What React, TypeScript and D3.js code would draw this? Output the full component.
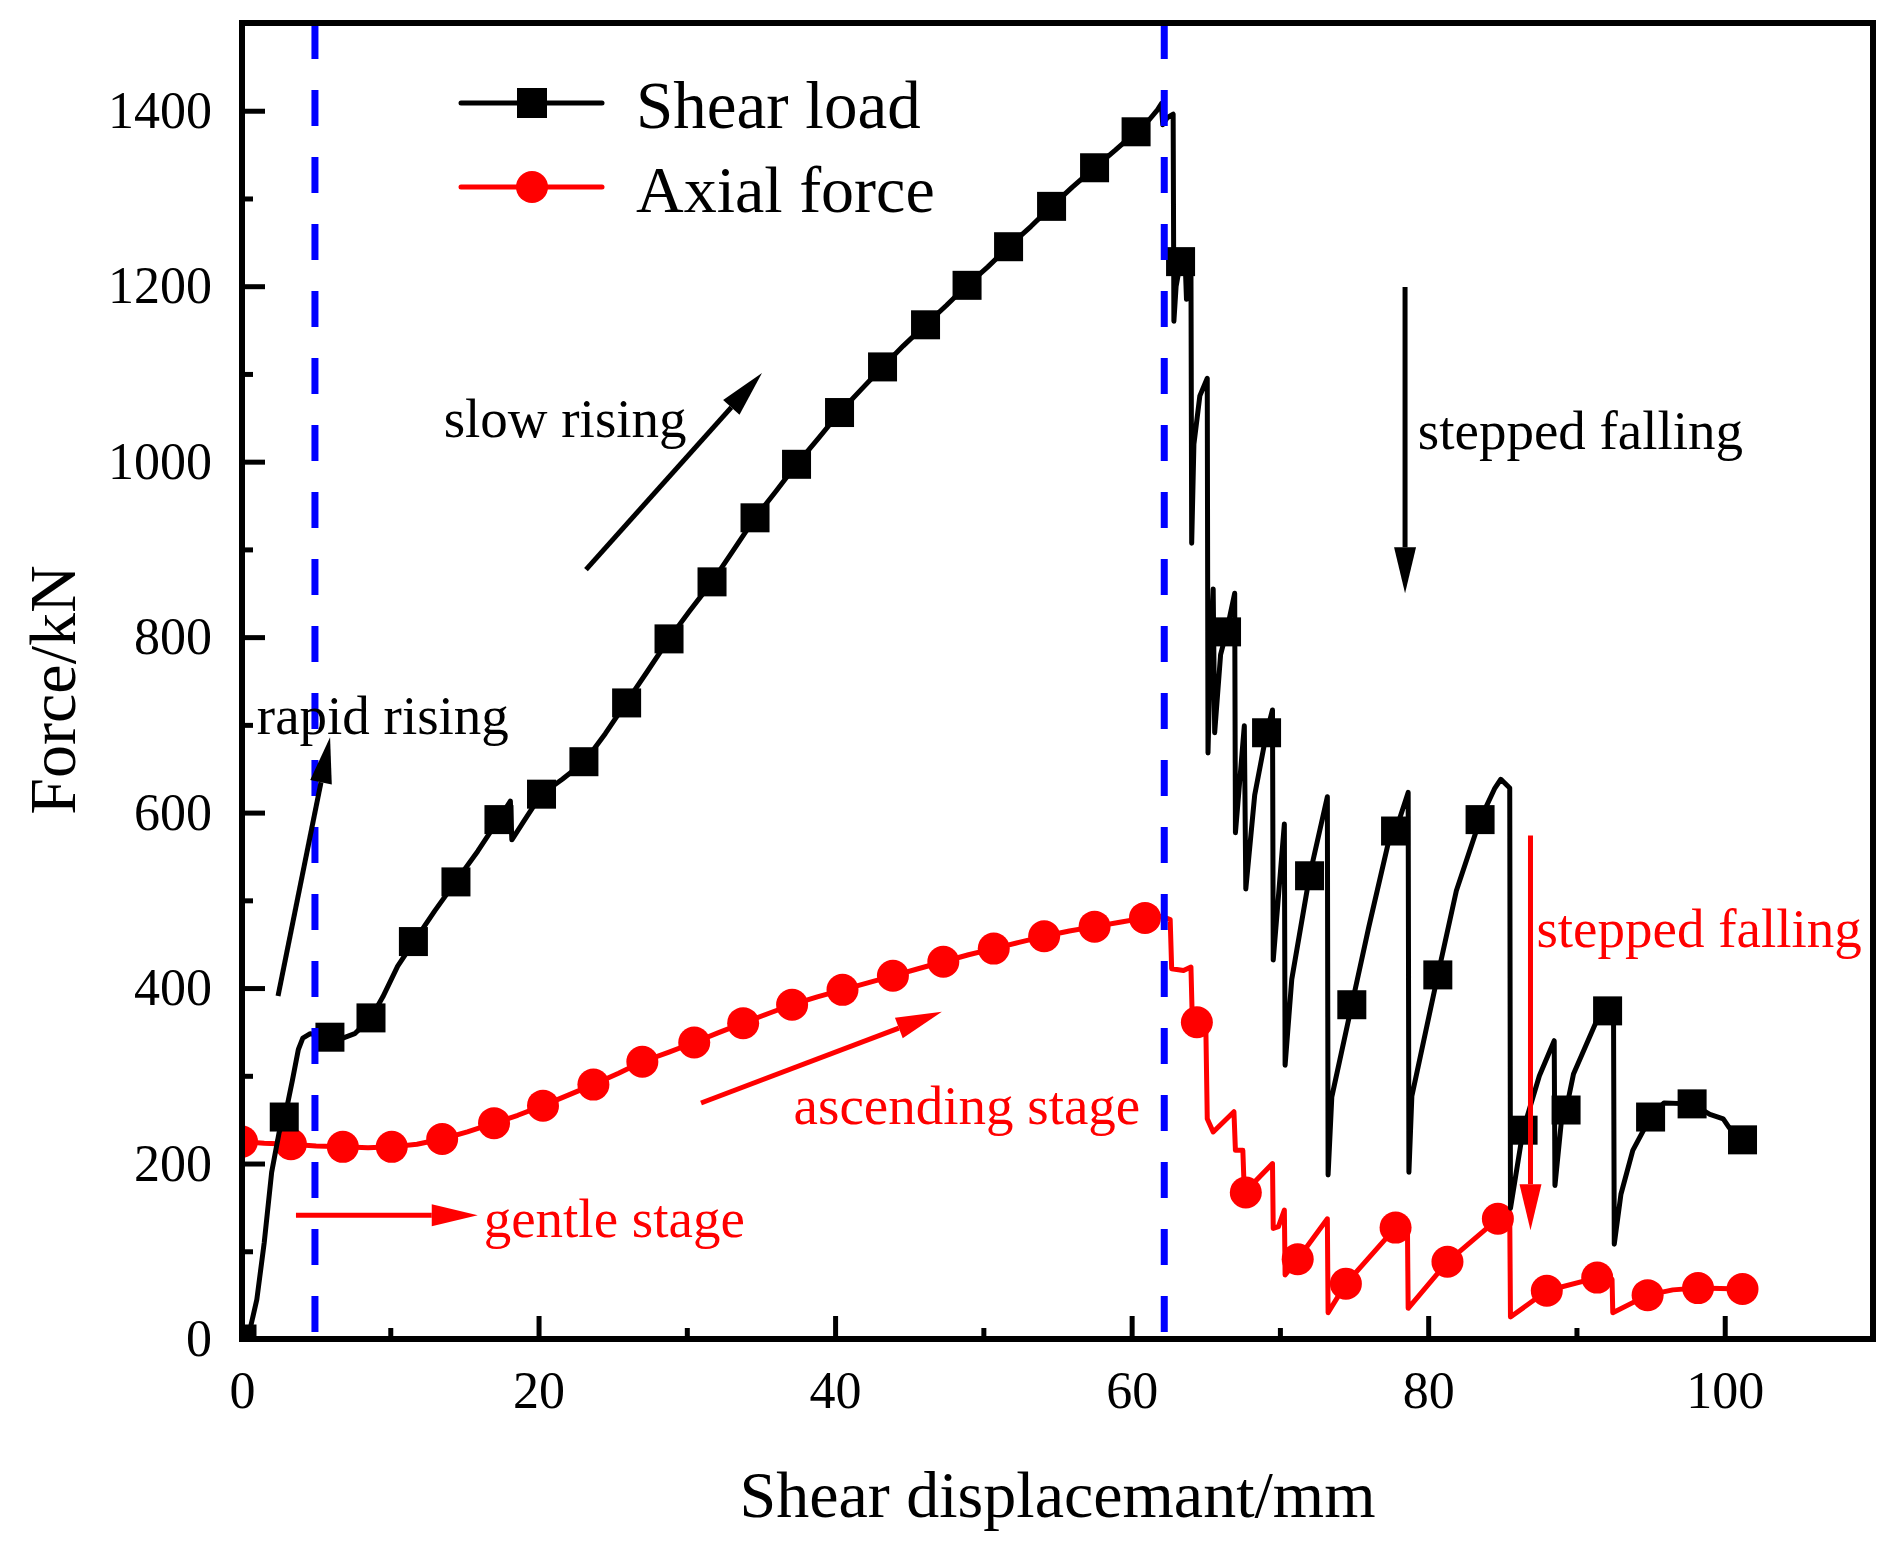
import { useRef, useEffect } from 'react';
import * as d3 from 'd3';

type Pt = [number, number];

const FONT = '"Liberation Serif", "Times New Roman", serif';

// shear load curve (displacement mm, force kN)
const shearLine: Pt[] = [
  [0, 0], [0.5, 8], [1, 45], [1.5, 110], [2, 190], [2.5, 235], [3, 262], [3.4, 295], [3.8, 330],
  [4.1, 343], [4.6, 348], [5.3, 345], [5.9, 344], [6.8, 343], [7.6, 348], [8.7, 366], [9.5, 390],
  [10.5, 425], [11.6, 453], [13, 488], [14.4, 521], [15.9, 556], [17.3, 592], [18.1, 613], [18.2, 569],
  [19, 590], [20.2, 621], [21.6, 638], [23.1, 658], [24.5, 690], [25.9, 725], [27.3, 760], [28.8, 798],
  [30.2, 830], [31.7, 863], [33.1, 898], [34.6, 936], [36, 966], [37.4, 997], [38.9, 1027], [40.3, 1056],
  [41.8, 1083], [43.2, 1108], [44.6, 1132], [46.1, 1156], [47.5, 1178], [48.9, 1201], [50.3, 1222],
  [51.7, 1245], [53.2, 1268], [54.6, 1291], [56, 1313], [57.5, 1335], [58.9, 1355], [60.3, 1376],
  [61.2, 1390], [61.7, 1400], [62.0, 1408], [62.1, 1384], [62.4, 1392], [62.8, 1396], [62.85, 1160],
  [63.0, 1200], [63.3, 1228], [63.6, 1232], [63.7, 1185], [63.9, 1232], [64.0, 1228], [64.05, 907],
  [64.2, 1020], [64.6, 1075], [65.1, 1095], [65.15, 668], [65.3, 770], [65.5, 855], [65.6, 691],
  [66, 780], [66.4, 806], [66.95, 850], [67.0, 577], [67.6, 699], [67.7, 513], [68.3, 620], [69.1, 691],
  [69.5, 717], [69.55, 432], [70.3, 587], [70.35, 312], [70.8, 410], [72.0, 528], [73.2, 618],
  [73.25, 187], [73.5, 276], [74.85, 381], [76, 470], [77.4, 572], [77.8, 579], [78.65, 623],
  [78.7, 190], [78.9, 277], [80.65, 415], [81.9, 511], [83.5, 592], [84.5, 628], [84.9, 638],
  [85.5, 628], [85.55, 149], [86.4, 238], [87.5, 300], [88.5, 340], [88.55, 175], [89.0, 251],
  [89.3, 261], [89.8, 302], [91.55, 370], [92.1, 374], [92.5, 373], [92.55, 108], [93.0, 165],
  [93.8, 215], [95.0, 253], [95.9, 269], [97.8, 268], [99.0, 256], [99.9, 251], [100.3, 241],
  [101.2, 227],
];

const shearMarkers: Pt[] = [
  [0, 0], [2.85, 253], [5.93, 344], [8.7, 366], [11.56, 453], [14.43, 521], [17.33, 592], [20.2, 621],
  [23.06, 658], [25.94, 725], [28.8, 798], [31.7, 863], [34.6, 936], [37.4, 997], [40.3, 1056],
  [43.2, 1108], [46.1, 1156], [48.9, 1201], [51.7, 1245], [54.6, 1291], [57.5, 1335], [60.3, 1376],
  [63.3, 1228], [66.4, 806], [69.1, 691], [72.0, 528], [74.85, 381], [77.8, 579], [80.65, 415],
  [83.5, 592], [86.4, 238], [89.3, 261], [92.1, 374], [95.0, 253], [97.8, 268], [101.2, 227],
];

// axial force curve
const axialLine: Pt[] = [
  [0, 225], [1.5, 223], [3.3, 222], [5, 220], [6.8, 219], [8.5, 218], [10.1, 219], [11.8, 222],
  [13.5, 228], [15.2, 236], [17, 246], [18.6, 255], [20.3, 266], [22, 278], [23.7, 290], [25.4, 303],
  [27.0, 316], [28.8, 327], [30.5, 338], [32.1, 349], [33.8, 360], [35.5, 371], [37.1, 381],
  [38.8, 390], [40.5, 398], [42.2, 406], [43.9, 414], [45.6, 422], [47.3, 430], [49, 438], [50.7, 445],
  [52.4, 452], [54.1, 459], [55.8, 465], [57.5, 470], [59.2, 475], [60.9, 480], [62.0, 482],
  [62.6, 478], [62.7, 422], [63.5, 420], [64.0, 424], [64.1, 358], [65.0, 360], [65.1, 251],
  [65.5, 236], [66.9, 259], [67.0, 215], [67.5, 215], [67.6, 167], [69.5, 200], [69.55, 126],
  [69.9, 128], [70.3, 147], [70.35, 73], [71.2, 91], [73.2, 137], [73.25, 30], [74.45, 63],
  [77.8, 127], [78.6, 130], [78.65, 35], [81.3, 88], [84.7, 137], [85.5, 142], [85.55, 25],
  [88.0, 55], [91.4, 70], [92.4, 68], [92.45, 30], [94.8, 50], [96.5, 56], [98.2, 58], [101.2, 57],
];

const axialMarkers: Pt[] = [
  [0, 225], [3.3, 222], [6.8, 219], [10.1, 219], [13.5, 228], [17, 246], [20.3, 266], [23.7, 290],
  [27.0, 316], [30.5, 338], [33.8, 360], [37.1, 381], [40.5, 398], [43.9, 414], [47.3, 430],
  [50.7, 445], [54.1, 459], [57.5, 470], [60.9, 480], [64.4, 361], [67.7, 167], [71.2, 91],
  [74.45, 63], [77.8, 127], [81.3, 88], [84.7, 137], [88.0, 55], [91.4, 70], [94.8, 50], [98.2, 58],
  [101.2, 57],
];

const xMajor = [0, 20, 40, 60, 80, 100];
const xMinor = [10, 30, 50, 70, 90];
const yMajor = [0, 200, 400, 600, 800, 1000, 1200, 1400];
const yMinor = [100, 300, 500, 700, 900, 1100, 1300];

const stageLines = [4.92, 62.2];

// annotations: text position, arrow from -> to (data units)
const notes = [
  { text: 'slow rising', at: [13.6, 1028] as Pt, color: '#000', from: [23.2, 877] as Pt, to: [35.07, 1101] as Pt },
  { text: 'rapid rising', at: [1.0, 690] as Pt, color: '#000', from: [2.43, 391] as Pt, to: [5.94, 686] as Pt },
  { text: 'stepped falling', at: [79.3, 1014] as Pt, color: '#000', from: [78.44, 1199] as Pt, to: [78.44, 850] as Pt },
  { text: 'stepped falling', at: [87.3, 447] as Pt, color: '#ff0000', from: [86.9, 574] as Pt, to: [86.9, 124] as Pt },
  { text: 'ascending stage', at: [37.2, 245] as Pt, color: '#ff0000', from: [30.96, 269] as Pt, to: [47.2, 373] as Pt },
  { text: 'gentle stage', at: [16.3, 116] as Pt, color: '#ff0000', from: [3.64, 141] as Pt, to: [15.9, 141] as Pt },
];

const W = 1902;
const H = 1552;
const left = 242;
const right = 1873;
const top = 23;
const bottom = 1339;

function Arrow({ x1, y1, x2, y2, color }: { x1: number; y1: number; x2: number; y2: number; color: string }) {
  const len = Math.hypot(x2 - x1, y2 - y1);
  const ux = (x2 - x1) / len;
  const uy = (y2 - y1) / len;
  const hl = 46;
  const hw = 11;
  const bx = x2 - ux * hl;
  const by = y2 - uy * hl;
  const pts = [
    [x2, y2],
    [bx - uy * hw, by + ux * hw],
    [bx + uy * hw, by - ux * hw],
  ];
  return (
    <g>
      <line x1={x1} y1={y1} x2={bx} y2={by} stroke={color} strokeWidth={5} />
      <polygon points={pts.map((p) => p.join(',')).join(' ')} fill={color} />
    </g>
  );
}

export default function App() {
  const gx = useRef<SVGGElement>(null);
  const gxm = useRef<SVGGElement>(null);
  const gy = useRef<SVGGElement>(null);
  const gym = useRef<SVGGElement>(null);

  const x = d3.scaleLinear().domain([0, 110]).range([left, right]);
  const y = d3.scaleLinear().domain([0, 1500]).range([bottom, top]);

  const line = d3
    .line<Pt>()
    .x((d) => x(d[0]))
    .y((d) => y(d[1]));

  useEffect(() => {
    const style = (sel: d3.Selection<SVGGElement, unknown, null, undefined>) => {
      sel.select('.domain').remove();
      sel.selectAll('line').attr('stroke', '#000').attr('stroke-width', 5);
      sel
        .selectAll('text')
        .attr('font-size', 52)
        .attr('font-family', FONT)
        .attr('fill', '#000');
    };
    if (gx.current) {
      const s = d3.select(gx.current);
      s.call(
        d3.axisBottom(x).tickValues(xMajor).tickSizeInner(-23).tickSizeOuter(0).tickPadding(32).tickFormat(d3.format('d')),
      );
      style(s);
    }
    if (gxm.current) {
      const s = d3.select(gxm.current);
      s.call(d3.axisBottom(x).tickValues(xMinor).tickSizeInner(-11).tickSizeOuter(0).tickFormat(() => ''));
      style(s);
    }
    if (gy.current) {
      const s = d3.select(gy.current);
      s.call(
        d3.axisLeft(y).tickValues(yMajor).tickSizeInner(-23).tickSizeOuter(0).tickPadding(30).tickFormat(d3.format('d')),
      );
      style(s);
    }
    if (gym.current) {
      const s = d3.select(gym.current);
      s.call(d3.axisLeft(y).tickValues(yMinor).tickSizeInner(-11).tickSizeOuter(0).tickFormat(() => ''));
      style(s);
    }
  }, []);

  return (
    <svg
      width={W}
      height={H}
      style={{ position: 'absolute', left: 0, top: 0, background: '#fff' }}
      fontFamily={FONT}
    >
      <defs>
        <clipPath id="plot">
          <rect x={left} y={top} width={right - left} height={bottom - top} />
        </clipPath>
      </defs>
      <rect x={0} y={0} width={W} height={H} fill="#fff" />

      <g clipPath="url(#plot)">
        <path d={line(axialLine)!} fill="none" stroke="#ff0000" strokeWidth={5} strokeLinejoin="round" />
        {axialMarkers.map((d, i) => (
          <circle key={i} cx={x(d[0])} cy={y(d[1])} r={16} fill="#ff0000" />
        ))}
        <path d={line(shearLine)!} fill="none" stroke="#000" strokeWidth={5} strokeLinejoin="round" />
        {shearMarkers.map((d, i) => (
          <rect key={i} x={x(d[0]) - 14.5} y={y(d[1]) - 14.5} width={29} height={29} fill="#000" />
        ))}
        {stageLines.map((v) => (
          <line
            key={v}
            x1={x(v)}
            x2={x(v)}
            y1={top}
            y2={bottom}
            stroke="#0000ff"
            strokeWidth={7}
            strokeDasharray="36 31"
          />
        ))}
      </g>

      {notes.map((n, i) => (
        <g key={i}>
          <text x={x(n.at[0])} y={y(n.at[1])} fontSize={55} fill={n.color}>
            {n.text}
          </text>
          <Arrow x1={x(n.from[0])} y1={y(n.from[1])} x2={x(n.to[0])} y2={y(n.to[1])} color={n.color} />
        </g>
      ))}

      {/* legend */}
      <line x1={461} x2={602} y1={103} y2={103} stroke="#000" strokeWidth={5} strokeLinecap="round" />
      <rect x={532 - 15} y={103 - 15} width={30} height={30} fill="#000" />
      <text x={636} y={128} fontSize={67} fill="#000">Shear load</text>
      <line x1={461} x2={602} y1={187} y2={187} stroke="#ff0000" strokeWidth={5} strokeLinecap="round" />
      <circle cx={532} cy={187} r={16} fill="#ff0000" />
      <text x={636} y={212} fontSize={66} fill="#000">Axial force</text>

      <g ref={gx} transform={`translate(0,${bottom})`} />
      <g ref={gxm} transform={`translate(0,${bottom})`} />
      <g ref={gy} transform={`translate(${left},0)`} />
      <g ref={gym} transform={`translate(${left},0)`} />

      <rect
        x={left}
        y={top}
        width={right - left}
        height={bottom - top}
        fill="none"
        stroke="#000"
        strokeWidth={6}
      />

      <text x={(left + right) / 2 - 0} y={1517} fontSize={66} textAnchor="middle" fill="#000">
        Shear displacemant/mm
      </text>
      <text
        transform={`translate(75,690) rotate(-90)`}
        fontSize={66}
        textAnchor="middle"
        fill="#000"
      >
        Force/kN
      </text>
    </svg>
  );
}
